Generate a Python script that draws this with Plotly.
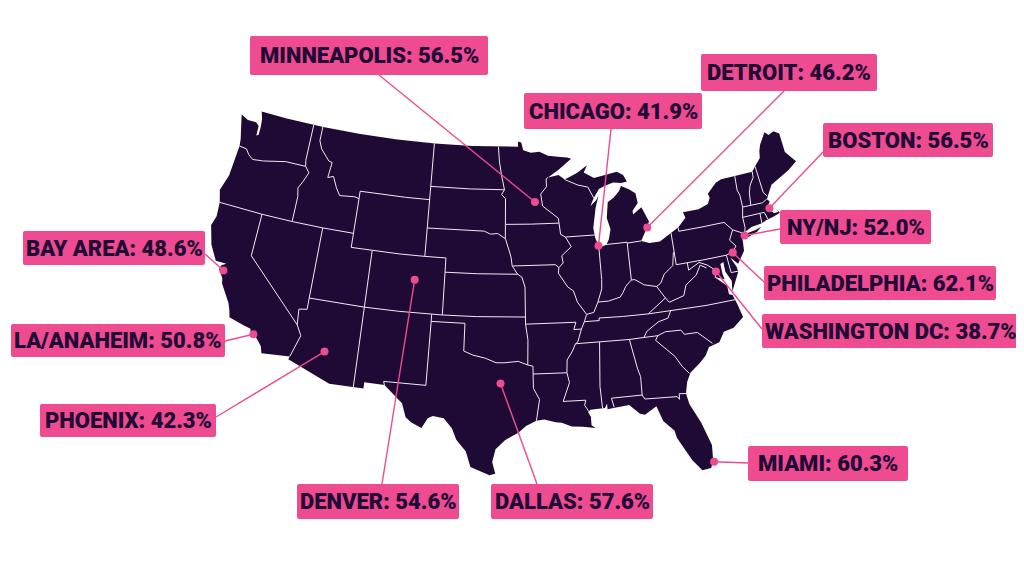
import math
import plotly.graph_objects as go

# share by metro area
cities = ["MINNEAPOLIS", "CHICAGO", "DETROIT", "BOSTON", "NY/NJ", "PHILADELPHIA", "WASHINGTON DC",
          "BAY AREA", "LA/ANAHEIM", "PHOENIX", "DENVER", "DALLAS", "MIAMI"]
shares = ["56.5%", "41.9%", "46.2%", "56.5%", "52.0%", "62.1%", "38.7%",
          "48.6%", "50.8%", "42.3%", "54.6%", "57.6%", "60.3%"]
city_lon = [-93.5, -87.55, -82.7, -70.8, -73.73, -75.16, -77.04,
            -122.1, -118.15, -111.9, -104.8, -96.8, -80.1]
city_lat = [45.05, 41.73, 42.6, 42.2, 40.78, 39.8, 38.75,
            37.5, 33.7, 33.5, 39.3, 32.35, 25.6]

# label boxes x0, x1, y0, y1 in page pixels, and where the leader leaves the box
label_x0 = [250, 524, 701, 823, 780, 764, 762, 23, 11, 40, 297, 491, 748]
label_x1 = [488, 702, 877, 993, 931, 996, 1020, 205, 225, 216, 459, 653, 908]
label_y0 = [36, 93, 54, 123, 210, 266, 314, 231, 324, 404, 484, 484, 446]
label_y1 = [75, 129, 91, 157, 244, 300, 348, 265, 357, 437, 519, 519, 481]
leader_x = [379, 611, 784, 823, 780, 764, 762, 205, 225, 216, 382, 537, 748]
leader_y = [75, 129, 91, 152, 229, 282, 329, 254, 341, 417, 484, 484, 463]

# lower 48 outline, lon/lat
outline = [
    (-124.7, 48.38), (-123.9, 48.15), (-123.0, 48.15), (-122.65, 47.95), (-122.6, 47.25), (-122.4, 47.35), (-122.4, 47.9),
    (-122.5, 48.5), (-122.76, 49.0), (-120, 49), (-116, 49), (-112, 49), (-108, 49), (-104, 49), (-100, 49), (-97, 49),
    (-95.15, 49.0), (-95.15, 49.38), (-94.8, 49.3), (-94.6, 48.75), (-93.8, 48.55), (-92.9, 48.6), (-92.0, 48.3),
    (-91.0, 48.2), (-90.0, 48.1), (-89.6, 48.0), (-91.0, 47.25), (-92.1, 46.75), (-91.0, 46.9), (-90.4, 46.55),
    (-89.1, 46.95), (-88.0, 47.45), (-88.4, 46.95), (-87.4, 46.5), (-86.0, 46.67), (-85.0, 46.77), (-84.4, 46.5),
    (-84.1, 46.0), (-84.7, 45.95), (-85.5, 46.05), (-86.3, 45.9), (-87.0, 45.7), (-87.6, 45.1), (-88.0, 44.55),
    (-87.4, 44.9), (-87.1, 45.25), (-87.5, 44.4), (-87.7, 43.7), (-87.9, 43.0), (-87.8, 42.3), (-87.6, 41.85),
    (-87.3, 41.62), (-86.8, 41.75), (-86.5, 42.1), (-86.25, 42.8), (-86.5, 43.6), (-86.25, 44.7), (-85.6, 45.0),
    (-85.0, 45.4), (-84.75, 45.75), (-84.0, 45.45), (-83.4, 45.1), (-83.3, 44.4), (-83.9, 43.9), (-83.9, 43.65),
    (-83.0, 44.07), (-82.45, 43.0), (-82.9, 42.4), (-83.15, 42.05), (-83.45, 41.72), (-82.7, 41.5), (-81.7, 41.5),
    (-80.5, 41.98), (-79.76, 42.27), (-78.9, 42.85), (-79.05, 43.27), (-77.5, 43.27), (-76.5, 43.5), (-76.2, 43.9),
    (-76.3, 44.2), (-75.3, 44.85), (-74.7, 45.0), (-73.3, 45.0), (-71.5, 45.0), (-71.1, 45.3), (-70.4, 45.8),
    (-70.25, 46.3), (-70.0, 46.7), (-69.23, 47.46), (-68.9, 47.2), (-68.3, 47.35), (-67.8, 47.07), (-67.8, 45.7),
    (-67.45, 45.3), (-67.0, 44.85), (-68.0, 44.4), (-69.0, 44.1), (-70.0, 43.75), (-70.6, 43.1), (-70.8, 42.85),
    (-70.6, 42.65), (-71.0, 42.3), (-70.65, 41.95), (-70.5, 41.78), (-70.05, 41.8), (-70.2, 42.07), (-69.95, 41.7),
    (-70.65, 41.55), (-71.1, 41.5), (-71.4, 41.45), (-71.86, 41.32), (-72.9, 41.25), (-73.65, 41.0), (-74.0, 40.7),
    (-74.0, 40.45), (-74.1, 39.75), (-74.9, 38.95), (-75.5, 39.5), (-75.1, 38.8), (-75.05, 38.4), (-75.95, 37.15),
    (-75.8, 37.9), (-76.2, 38.6), (-76.2, 39.3), (-76.5, 39.2), (-76.5, 38.5), (-76.4, 38.1), (-77.2, 38.35),
    (-76.3, 37.6), (-76.3, 37.0), (-76.0, 36.9), (-75.75, 36.2), (-75.5, 35.25), (-76.5, 34.65), (-77.4, 34.5),
    (-77.95, 33.85), (-78.9, 33.65), (-79.3, 33.1), (-79.9, 32.65), (-80.8, 32.1), (-81.2, 31.5), (-81.45, 30.7),
    (-81.3, 29.9), (-80.6, 28.5), (-80.05, 26.8), (-80.15, 25.75), (-80.4, 25.2), (-81.1, 25.13), (-81.75, 25.95),
    (-82.1, 26.6), (-82.7, 27.7), (-82.8, 28.2), (-83.6, 29.0), (-84.0, 30.1), (-85.0, 29.6), (-85.4, 29.7),
    (-86.2, 30.4), (-87.5, 30.3), (-88.0, 30.25), (-88.0, 30.65), (-88.2, 30.35), (-89.4, 30.3), (-89.6, 30.15),
    (-89.4, 29.8), (-89.4, 29.2), (-89.1, 29.0), (-90.1, 29.15), (-91.0, 29.2), (-91.8, 29.5), (-92.3, 29.55),
    (-93.2, 29.77), (-93.85, 29.7), (-94.7, 29.35), (-95.3, 28.9), (-96.4, 28.35), (-97.15, 27.7), (-97.4, 26.8),
    (-97.15, 25.96), (-97.6, 25.85), (-99.1, 26.4), (-99.5, 27.5), (-100.3, 28.3), (-100.7, 29.1), (-101.4, 29.77),
    (-102.3, 29.88), (-102.7, 29.7), (-103.15, 28.98), (-104.0, 29.3), (-104.5, 29.65), (-104.9, 30.6), (-106.5, 31.75),
    (-108.2, 31.78), (-108.2, 31.33), (-111.07, 31.33), (-114.8, 32.5), (-114.72, 32.72), (-117.12, 32.53), (-117.3, 33.0),
    (-118.0, 33.65), (-118.4, 33.75), (-118.5, 34.03), (-119.2, 34.15), (-120.5, 34.45), (-120.65, 34.9), (-120.9, 35.4),
    (-121.9, 36.6), (-122.0, 36.95), (-122.5, 37.5), (-122.4, 37.8), (-122.0, 38.0), (-123.0, 38.0), (-123.8, 39.0),
    (-124.35, 40.3), (-124.1, 41.0), (-124.2, 42.0), (-124.55, 42.85), (-124.1, 44.0), (-123.95, 46.2), (-124.05, 46.7),
    (-124.7, 48.38),
]
long_island = [(-74.0, 40.6), (-73.75, 40.85), (-72.6, 40.98), (-72.0, 41.1), (-72.5, 40.82), (-73.5, 40.6), (-74.0, 40.6)]

# state borders, lon/lat
borders = [
    [(-123.95, 46.2), (-123.2, 46.15), (-122.8, 45.8), (-122.3, 45.55), (-121.2, 45.65), (-119.3, 45.93), (-119.0, 46.0), (-116.92, 46.0)],
    [(-117.04, 49.0), (-117.04, 46.42), (-116.92, 46.0), (-116.46, 45.6), (-116.85, 44.9), (-117.2, 44.4), (-117.03, 43.8), (-117.03, 42.0)],
    [(-116.05, 49.0), (-116.05, 48.0), (-115.7, 47.45), (-114.7, 46.7), (-114.35, 46.65), (-114.5, 45.55), (-113.95, 45.7), (-113.45, 44.95), (-113.0, 44.45), (-112.0, 44.55), (-111.5, 44.55), (-111.05, 44.47)],
    [(-111.05, 45.0), (-111.05, 44.47), (-111.05, 42.0), (-111.05, 41.0)],
    [(-111.05, 45.0), (-109, 45), (-106.5, 45), (-104.05, 45.0)],
    [(-124.2, 42.0), (-122, 42), (-120, 42), (-117, 42), (-114.04, 42), (-111.05, 42.0)],
    [(-120, 42), (-120, 39), (-114.63, 35.0)],
    [(-114.04, 42), (-114.04, 37.0), (-114.04, 36.2), (-114.75, 36.1), (-114.63, 35.0), (-114.14, 34.3), (-114.5, 33.4), (-114.72, 32.72)],
    [(-111.05, 41), (-109.05, 41), (-106.5, 41), (-104.05, 41), (-102.05, 41)],
    [(-104.05, 49), (-104.05, 45.94), (-104.05, 45), (-104.05, 43), (-104.05, 41)],
    [(-109.05, 41), (-109.05, 37), (-109.05, 34), (-109.05, 31.33)],
    [(-114.04, 37), (-111, 37), (-109.05, 37), (-106, 37), (-103, 37), (-102.05, 37), (-99, 37), (-96, 37), (-94.62, 37)],
    [(-102.05, 41), (-102.05, 40), (-102.05, 37)],
    [(-104.05, 43), (-101, 43), (-98.5, 43), (-97.9, 42.8), (-97.2, 42.85), (-96.45, 42.5)],
    [(-104.05, 45.94), (-100, 45.94), (-96.56, 45.94)],
    [(-97.23, 49), (-97.1, 47.9), (-96.85, 46.9), (-96.56, 45.94), (-96.85, 45.6), (-96.45, 45.3), (-96.45, 43.5), (-96.45, 42.5), (-96.1, 41.7), (-95.9, 41.2), (-95.8, 40.6), (-95.3, 40.0), (-94.9, 39.8), (-94.62, 39.1), (-94.62, 36.5)],
    [(-102.05, 40), (-99, 40), (-95.3, 40)],
    [(-103.0, 37), (-103.0, 36.5), (-100, 36.5), (-100, 34.56), (-99.2, 34.3), (-98.1, 34.1), (-97.2, 33.8), (-96.5, 33.8), (-95.3, 33.9), (-94.48, 33.64)],
    [(-103.0, 36.5), (-103.05, 32.0), (-106.6, 32.0), (-106.5, 31.75)],
    [(-94.62, 36.5), (-94.43, 35.4), (-94.48, 33.64), (-94.04, 33.55), (-94.04, 33.0), (-94.04, 31.99), (-93.55, 31.2), (-93.7, 30.5), (-93.85, 29.7)],
    [(-94.62, 36.5), (-92, 36.5), (-90.15, 36.5), (-90.37, 36.0), (-89.7, 36.0)],
    [(-94.04, 33.0), (-91.17, 33.0)],
    [(-92.1, 46.75), (-92.29, 46.66), (-92.29, 46.1), (-92.9, 45.6), (-92.75, 44.75), (-91.25, 43.85), (-91.2, 43.5), (-91.1, 42.7), (-90.65, 42.5), (-90.15, 41.8), (-91.1, 41.2), (-91.0, 40.7), (-91.42, 40.38), (-91.5, 40.0), (-90.7, 39.0), (-90.2, 38.7), (-89.9, 37.9), (-89.15, 37.0), (-89.4, 36.5), (-89.7, 36.0), (-90.1, 35.1), (-90.3, 35.0), (-90.6, 34.5), (-91.1, 33.9), (-91.17, 33.0), (-91.0, 32.3), (-91.6, 31.0), (-89.73, 31.0), (-89.85, 30.65), (-89.55, 30.2)],
    [(-96.45, 43.5), (-94, 43.5), (-91.2, 43.5)],
    [(-95.77, 40.58), (-93.5, 40.6), (-91.73, 40.6), (-91.42, 40.38)],
    [(-90.65, 42.5), (-87.8, 42.5)],
    [(-90.4, 46.55), (-89.1, 46.1), (-88.1, 45.9), (-87.8, 45.35), (-87.6, 45.1)],
    [(-87.53, 41.7), (-87.53, 39.35), (-87.6, 38.7), (-88.05, 37.8)],
    [(-89.15, 37.0), (-88.5, 37.1), (-88.05, 37.8), (-87.1, 37.8), (-86.0, 38.0), (-85.7, 38.3), (-85.4, 38.7), (-84.82, 39.1), (-84.5, 39.1), (-83.7, 38.65), (-82.6, 38.42), (-82.2, 38.6), (-81.75, 39.2), (-80.85, 39.7), (-80.6, 40.6), (-80.52, 40.64)],
    [(-80.52, 41.98), (-80.52, 40.64), (-80.52, 39.72), (-78, 39.72), (-75.79, 39.72)],
    [(-84.82, 39.1), (-84.8, 41.7)],
    [(-86.82, 41.76), (-84.8, 41.76), (-84.8, 41.7), (-83.45, 41.73)],
    [(-89.4, 36.5), (-88.07, 36.5), (-88.07, 36.68), (-86, 36.63), (-83.68, 36.6), (-81.68, 36.59), (-78.5, 36.55), (-75.87, 36.55)],
    [(-83.68, 36.6), (-81.97, 37.54), (-82.6, 38.42)],
    [(-81.97, 37.54), (-81.68, 37.2), (-80.3, 37.5), (-79.95, 38.2), (-78.87, 38.77), (-78.35, 39.4), (-77.83, 39.13)],
    [(-77.72, 39.32), (-77.05, 38.85), (-77.2, 38.35), (-76.3, 37.95)],
    [(-79.48, 39.72), (-79.48, 39.2), (-78.4, 39.6), (-77.72, 39.32)],
    [(-75.42, 39.8), (-75.79, 39.72), (-75.7, 38.46), (-75.05, 38.45)],
    [(-75.42, 39.8), (-75.1, 39.9), (-74.73, 40.2), (-75.2, 40.7), (-74.7, 41.36), (-73.9, 41.0)],
    [(-79.76, 42.27), (-79.76, 42.0), (-77.5, 42.0), (-75.35, 42.0), (-74.7, 41.36)],
    [(-73.65, 41.0), (-73.5, 41.3), (-73.5, 42.05), (-73.27, 42.75), (-73.25, 43.6), (-73.4, 44.0), (-73.3, 45.0)],
    [(-73.5, 42.05), (-71.8, 42.02), (-71.38, 42.02), (-71.2, 41.5)],
    [(-71.8, 42.02), (-71.86, 41.32)],
    [(-73.27, 42.75), (-71.3, 42.7), (-70.82, 42.87)],
    [(-72.46, 42.73), (-72.3, 43.6), (-72.05, 44.1), (-71.55, 44.6), (-71.5, 45.0)],
    [(-70.7, 43.07), (-70.98, 43.4), (-71.08, 45.3)],
    [(-83.1, 35.0), (-82.4, 35.2), (-81.05, 35.15), (-80.8, 34.82), (-79.67, 34.8), (-78.55, 33.86)],
    [(-81.68, 36.59), (-82.0, 36.12), (-82.9, 35.95), (-84.0, 35.4), (-84.32, 35.0)],
    [(-90.3, 35.0), (-88.2, 35.0), (-85.6, 34.98), (-84.32, 35.0), (-83.1, 35.0), (-83.35, 34.7), (-82.6, 34.0), (-81.9, 33.4), (-81.4, 32.6), (-80.9, 32.05)],
    [(-85.6, 34.98), (-85.18, 32.87), (-85.0, 32.3), (-85.05, 31.0), (-84.86, 30.7), (-82.2, 30.57), (-82.05, 30.36), (-82.0, 30.75), (-81.45, 30.7)],
    [(-85.05, 31.0), (-87.6, 31.0), (-87.45, 30.35)],
    [(-88.2, 35.0), (-88.47, 31.9), (-88.4, 30.35)],
]


def albers(lon, lat):
    # conic equal-area, standard parallels 29.5 and 45.5, then fitted to the page
    p1, p2, lat0, lon0 = map(math.radians, (29.5, 45.5, 37.5, -96.0))
    n = (math.sin(p1) + math.sin(p2)) / 2
    c = math.cos(p1) ** 2 + 2 * n * math.sin(p1)
    rho0 = math.sqrt(c - 2 * n * math.sin(lat0)) / n
    rho = math.sqrt(c - 2 * n * math.sin(math.radians(lat))) / n
    theta = n * (math.radians(lon) - lon0)
    return 510 + 811 * rho * math.sin(theta), 310 - 811 * (rho0 - rho * math.cos(theta))


def to_xy(paths):
    xs, ys = [], []
    for path in paths:
        for lon, lat in path:
            x, y = albers(lon, lat)
            xs.append(x)
            ys.append(y)
        xs.append(None)
        ys.append(None)
    return xs, ys


def round_box(x0, x1, y0, y1, r=2):
    return (f"M{x0 + r},{y0} L{x1 - r},{y0} Q{x1},{y0} {x1},{y0 + r} L{x1},{y1 - r} Q{x1},{y1} {x1 - r},{y1} "
            f"L{x0 + r},{y1} Q{x0},{y1} {x0},{y1 - r} L{x0},{y0 + r} Q{x0},{y0} {x0 + r},{y0} Z")


ink = "#1f0a36"
pink = "#ee4b90"

fig = go.Figure()
land_x, land_y = to_xy([outline, long_island])
fig.add_trace(go.Scatter(x=land_x, y=land_y, mode="lines", fill="toself", fillcolor=ink, line=dict(width=0), hoverinfo="skip"))
line_x, line_y = to_xy(borders)
fig.add_trace(go.Scatter(x=line_x, y=line_y, mode="lines", line=dict(color="#efeaf2", width=1), hoverinfo="skip"))

dots = [albers(lon, lat) for lon, lat in zip(city_lon, city_lat)]
for (dx, dy), lx, ly in zip(dots, leader_x, leader_y):
    fig.add_trace(go.Scatter(x=[dx, lx], y=[dy, ly], mode="lines", line=dict(color=pink, width=1.4), hoverinfo="skip"))
fig.add_trace(go.Scatter(x=[d[0] for d in dots], y=[d[1] for d in dots], mode="markers", marker=dict(color=pink, size=8), text=cities))

for city, share, x0, x1, y0, y1 in zip(cities, shares, label_x0, label_x1, label_y0, label_y1):
    fig.add_shape(type="path", path=round_box(x0, x1, y0, y1), fillcolor=pink, line=dict(width=0), layer="above")
    fig.add_annotation(x=(x0 + x1) / 2, y=(y0 + y1) / 2, text=f"{city}: {share}", showarrow=False,
                       font=dict(family="Roboto", size=22, color=ink, weight=900))

# the page has an 8px body margin, so the axes start at 8 to keep page pixels
fig.update_xaxes(visible=False, range=[8, 1024])
fig.update_yaxes(visible=False, range=[576, 8])
fig.update_layout(width=1016, height=568, margin=dict(l=0, r=0, t=0, b=0), showlegend=False,
                  paper_bgcolor="white", plot_bgcolor="white")
fig.write_html("out.html")
